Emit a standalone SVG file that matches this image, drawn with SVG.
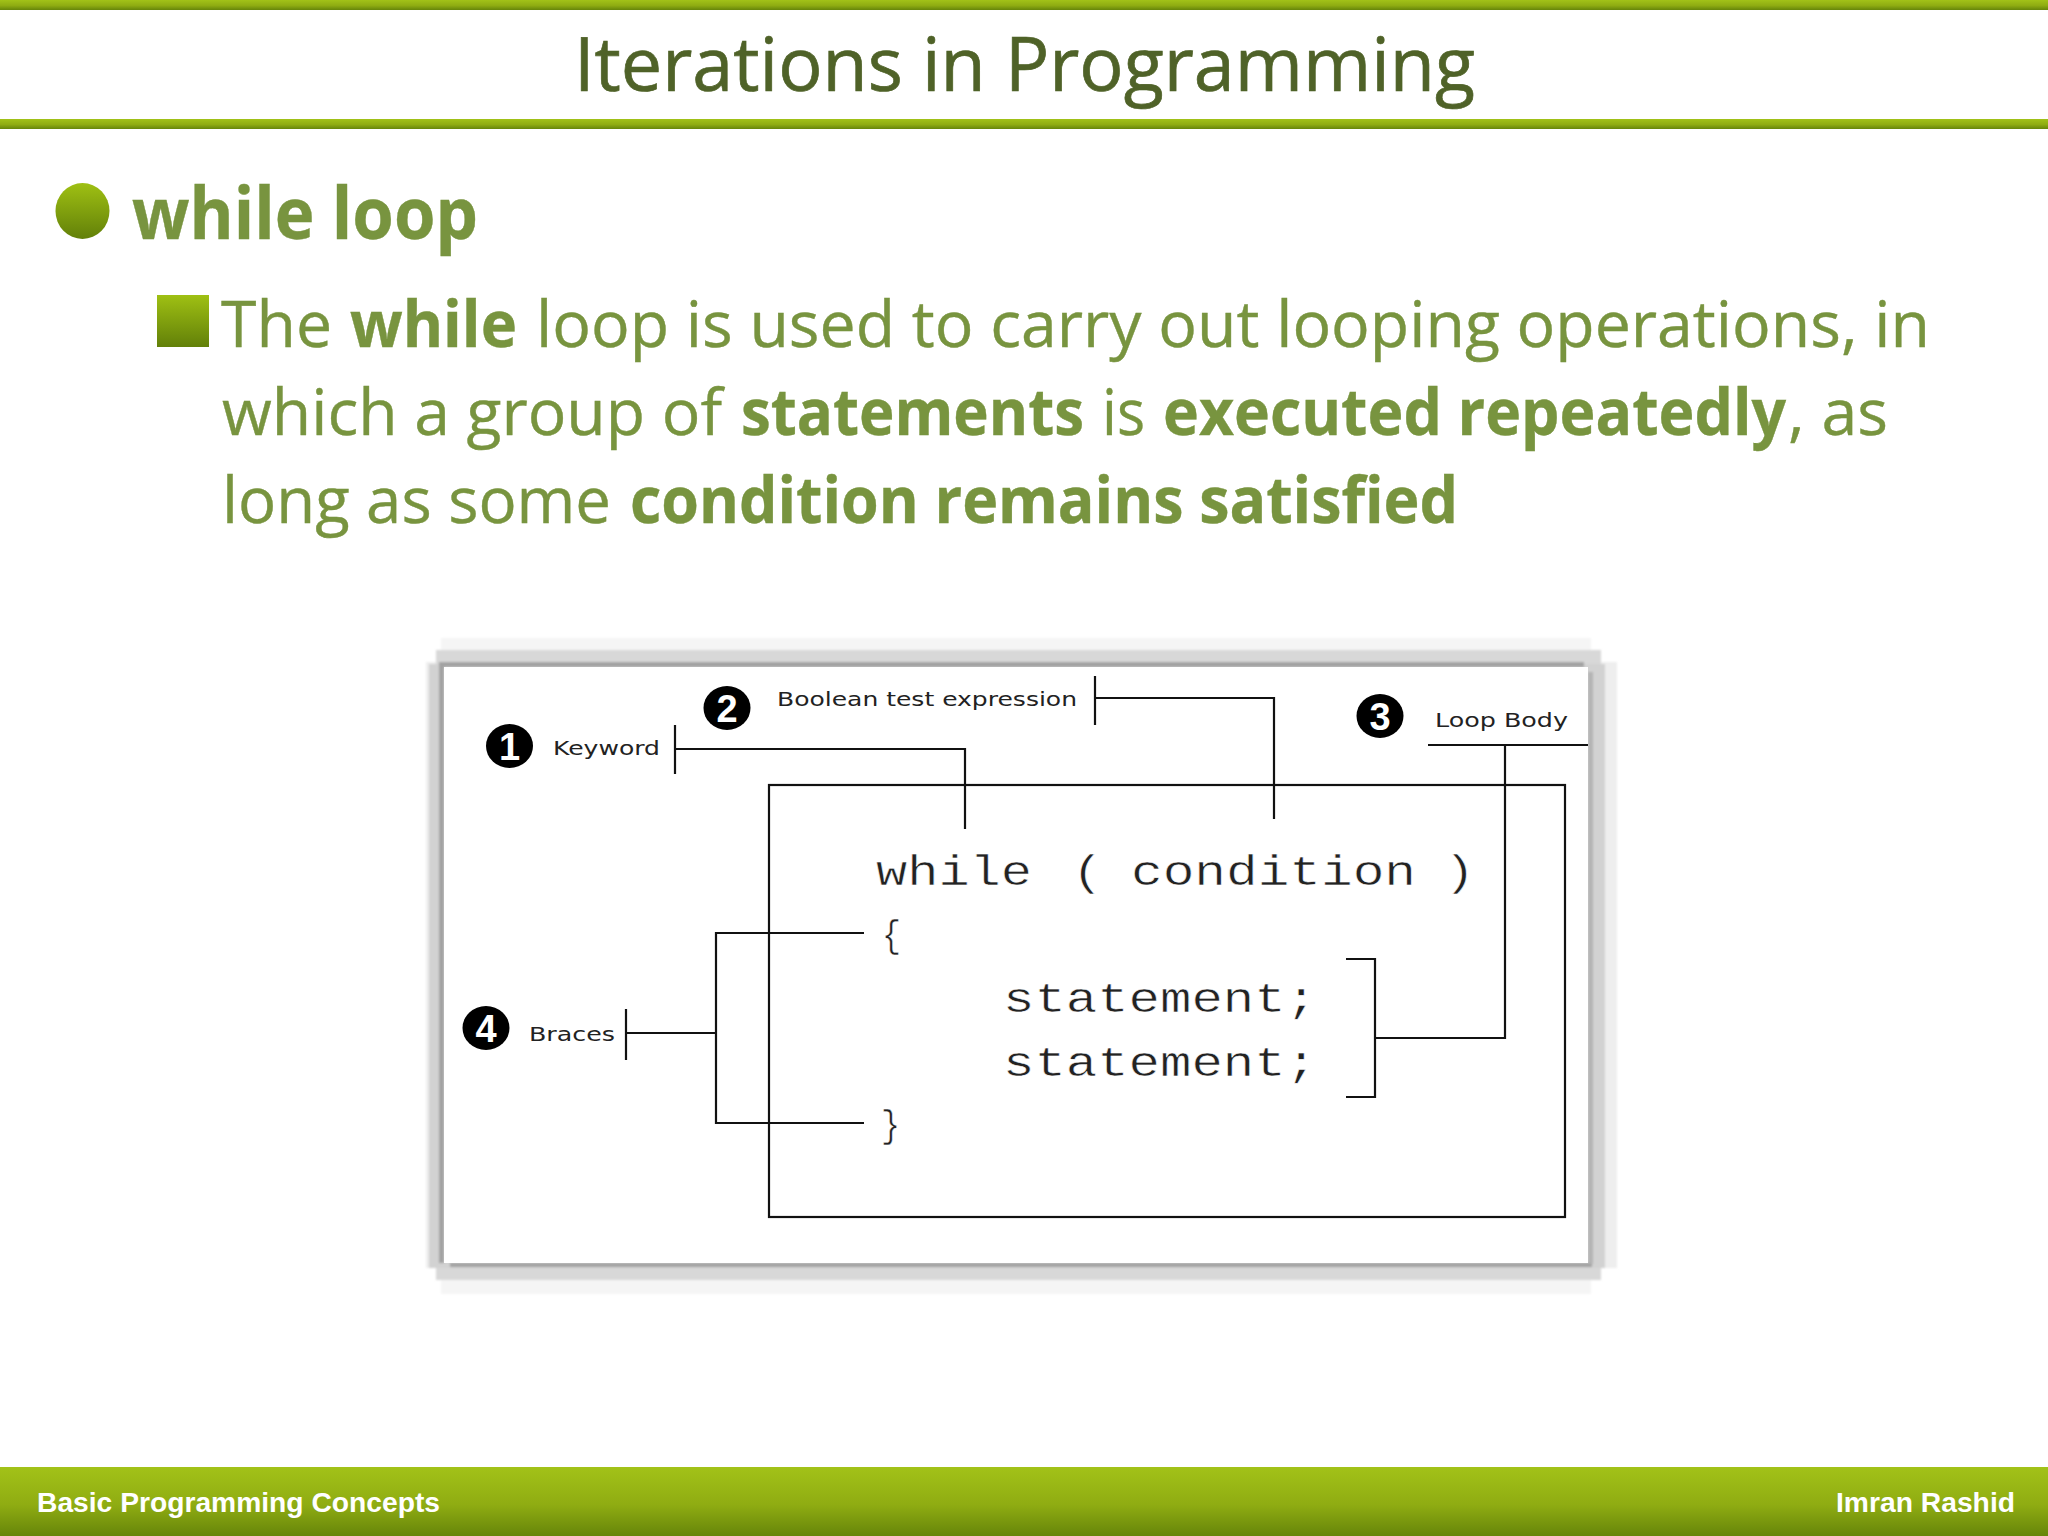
<svg xmlns="http://www.w3.org/2000/svg" width="2048" height="1536" viewBox="0 0 2048 1536">
<defs>
<linearGradient id="g" x1="0" y1="0" x2="0" y2="1"><stop offset="0" stop-color="#a2c218"/><stop offset="0.55" stop-color="#8fac12"/><stop offset="1" stop-color="#66850a"/></linearGradient>
<linearGradient id="gb" x1="0" y1="0" x2="0" y2="1"><stop offset="0" stop-color="#9fc013"/><stop offset="1" stop-color="#628009"/></linearGradient>
<filter id="soft" x="-2%" y="-2%" width="104%" height="104%"><feGaussianBlur stdDeviation="1"/></filter>
</defs>
<style>
.body{font-family:"Open Sans","Noto Sans",sans-serif;font-size:64px;fill:#78943f;stroke:#78943f;stroke-width:.4}
.b{font-weight:700}
.code{font-family:"Liberation Mono",monospace;font-size:42px;fill:#222;stroke:#fff;stroke-width:.5}
.brace{font-size:38px}
.lab{font-family:"DejaVu Sans",sans-serif;font-size:20px;fill:#222}
.num{font-family:"Liberation Sans",sans-serif;font-size:38px;font-weight:700;fill:#fff;text-anchor:middle}
.foot{font-family:"Liberation Sans",Arial,sans-serif;font-size:28px;font-weight:700;fill:#fff}
.ln{fill:none;stroke:#111;stroke-width:2.2}
</style>
<rect width="2048" height="1536" fill="#fff"/>
<g id="header">
<rect x="0" y="0" width="2048" height="10" fill="url(#g)"/>
<rect x="0" y="119" width="2048" height="10" fill="url(#g)"/>
<text x="574" y="91" font-family="'Open Sans','Noto Sans',sans-serif" font-size="75" fill="#4f6228" stroke="#4f6228" stroke-width=".7" textLength="901" lengthAdjust="spacingAndGlyphs">Iterations in Programming</text>
</g>
<g id="bullet-1">
<ellipse cx="82.5" cy="211" rx="27" ry="28" fill="url(#gb)"/>
<text x="132" y="239" class="body b" style="font-size:71px" textLength="346" lengthAdjust="spacingAndGlyphs">while loop</text>
</g>
<g id="bullet-2">
<rect x="157" y="295" width="52" height="52" fill="url(#gb)"/>
<text class="body" y="347"><tspan x="221" textLength="111" lengthAdjust="spacingAndGlyphs">The</tspan> <tspan x="350" class="b" textLength="167" lengthAdjust="spacingAndGlyphs">while</tspan> <tspan x="536" textLength="1394" lengthAdjust="spacingAndGlyphs">loop is used to carry out looping operations, in</tspan></text>
<text class="body" y="435"><tspan x="222" textLength="500" lengthAdjust="spacingAndGlyphs">which a group of</tspan> <tspan x="741" class="b" textLength="343" lengthAdjust="spacingAndGlyphs">statements</tspan> <tspan x="1102" textLength="43" lengthAdjust="spacingAndGlyphs">is</tspan> <tspan x="1163" class="b" textLength="623" lengthAdjust="spacingAndGlyphs">executed repeatedly</tspan><tspan x="1788" textLength="100" lengthAdjust="spacingAndGlyphs">, as</tspan></text>
<text class="body" y="523"><tspan x="222" textLength="389" lengthAdjust="spacingAndGlyphs">long as some</tspan> <tspan x="630" class="b" textLength="828" lengthAdjust="spacingAndGlyphs">condition remains satisfied</tspan></text>
</g>
<g id="figure-frame">
<g filter="url(#soft)">
<rect x="441" y="638" width="1150" height="656" fill="#f5f5f5"/>
<rect x="426" y="662" width="1191" height="606" fill="#eeeeee"/>
<rect x="436" y="650" width="1165" height="630" fill="#d8d8d8"/>
<rect x="429" y="664" width="1176" height="604" fill="#d2d2d2"/>
<path d="M439 662H1584V667H444V1263H1592V1267H450V1263H439Z" fill="#a2a2a2"/>
<rect x="1588" y="672" width="5" height="592" fill="#b4b4b4"/>
</g>
<rect x="444" y="667" width="1144" height="596" fill="#fff"/>
</g>
<g id="connectors">
<path class="ln" d="M675 725V774M675 749H965V829"/>
<path class="ln" d="M1095 676V725M1095 698H1274V819"/>
<path class="ln" d="M1428 745H1588M1505 745V1038H1376M1346 959H1375V1097H1346"/>
<path class="ln" d="M626 1009V1060M626 1033H716M864 933H716V1123H864"/>
</g>
<g id="loop-box"><rect class="ln" x="769" y="785" width="796" height="432"/></g>
<g id="code">
<text class="code" y="885"><tspan x="876" textLength="156" lengthAdjust="spacingAndGlyphs">while</tspan> <tspan x="1072" textLength="31" lengthAdjust="spacingAndGlyphs">(</tspan> <tspan x="1131" textLength="285" lengthAdjust="spacingAndGlyphs">condition</tspan> <tspan x="1444" textLength="31" lengthAdjust="spacingAndGlyphs">)</tspan></text>
<text class="code brace" x="882" y="947" textLength="19" lengthAdjust="spacingAndGlyphs">{</text>
<text class="code" x="1003" y="1012" textLength="314" lengthAdjust="spacingAndGlyphs">statement;</text>
<text class="code" x="1003" y="1076" textLength="314" lengthAdjust="spacingAndGlyphs">statement;</text>
<text class="code brace" x="881" y="1137" textLength="19" lengthAdjust="spacingAndGlyphs">}</text>
</g>
<g id="label-1">
<ellipse cx="509.5" cy="746" rx="23.5" ry="22" fill="#000"/><text class="num" x="509.5" y="760">1</text>
<text class="lab" x="553" y="755" textLength="107" lengthAdjust="spacingAndGlyphs">Keyword</text>
</g>
<g id="label-2">
<ellipse cx="727" cy="708" rx="23.5" ry="22" fill="#000"/><text class="num" x="727" y="722">2</text>
<text class="lab" x="777" y="706" textLength="300" lengthAdjust="spacingAndGlyphs">Boolean test expression</text>
</g>
<g id="label-3">
<ellipse cx="1380" cy="716" rx="23.5" ry="22" fill="#000"/><text class="num" x="1380" y="730">3</text>
<text class="lab" x="1435" y="727" textLength="133" lengthAdjust="spacingAndGlyphs">Loop Body</text>
</g>
<g id="label-4">
<ellipse cx="486" cy="1028" rx="23.5" ry="22" fill="#000"/><text class="num" x="486" y="1042">4</text>
<text class="lab" x="529" y="1041" textLength="86" lengthAdjust="spacingAndGlyphs">Braces</text>
</g>
<g id="footer">
<rect x="0" y="1467" width="2048" height="69" fill="url(#g)"/>
<text class="foot" x="37" y="1512" textLength="403" lengthAdjust="spacingAndGlyphs">Basic Programming Concepts</text>
<text class="foot" x="1836" y="1512" textLength="179" lengthAdjust="spacingAndGlyphs">Imran Rashid</text>
</g>
</svg>
